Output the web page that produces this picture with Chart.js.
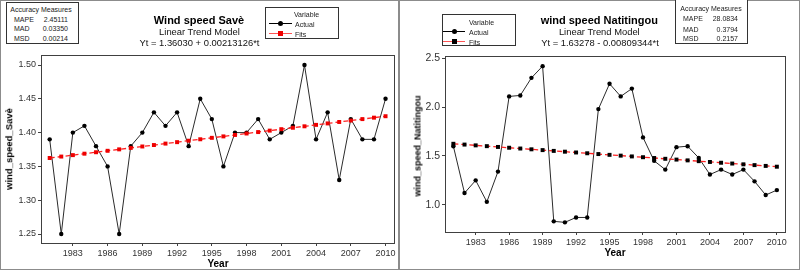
<!DOCTYPE html>
<html>
<head>
<meta charset="utf-8">
<script src="https://cdn.jsdelivr.net/npm/chart.js@4/dist/chart.umd.min.js"></script>
<style>
  html, body { margin: 0; padding: 0; background: #fff; }
  #page { position: relative; width: 800px; height: 270px; overflow: hidden; }
  .panel { position: absolute; top: 0; height: 268px; border: 1px solid #8c8c8c; }
  canvas { position: absolute; top: 0; }
  .t { position: absolute; white-space: nowrap; line-height: 1; color: #000;
       font-family: 'Liberation Sans', Arial, sans-serif; }
  .c { transform: translate(-50%, -50%); }
  .l { transform: translate(0, -50%); }
  .r { transform: translate(-100%, -50%); }
  .box { position: absolute; border: 1px solid #333; background: #fff; }
  .small { font-size: 7px; color: #222; }
  .title { font-size: 11px; font-weight: bold; }
  .sub { font-size: 9.4px; color: #111; }
  .axt { font-weight: bold; }
  .yt { transform: translate(-50%, -50%) rotate(-90deg); }
  .mk { position: absolute; }
</style>
</head>
<body>
<div id="page">
  <div class="panel" style="left:0; width:397px;"></div>
  <div class="panel" style="left:399px; width:399px;"></div>

  <canvas id="chartSave" width="398" height="270" style="left:0"></canvas>
  <canvas id="chartNati" width="400" height="270" style="left:400px"></canvas>

  <!-- Savè panel -->
  <div class="box" style="left:6px; top:2px; width:71px; height:40px;"></div>
  <div class="t small c" style="left:41px; top:8.5px;">Accuracy Measures</div>
  <div class="t small l" style="left:14px; top:18.5px;">MAPE</div>
  <div class="t small r" style="left:68px; top:18.5px;">2.45111</div>
  <div class="t small l" style="left:14px; top:28px;">MAD</div>
  <div class="t small r" style="left:68px; top:28px;">0.03350</div>
  <div class="t small l" style="left:14px; top:37.5px;">MSD</div>
  <div class="t small r" style="left:68px; top:37.5px;">0.00214</div>

  <div class="t title c" style="left:199px; top:19.5px;">Wind speed Savè</div>
  <div class="t sub c" style="left:199.5px; top:31.7px;">Linear Trend Model</div>
  <div class="t sub c" style="left:199.5px; top:43.3px;">Yt = 1.36030 + 0.00213126*t</div>

  <div class="box" style="left:265px; top:7px; width:72px; height:30px;"></div>
  <div class="t small c" style="left:306.5px; top:14px;">Variable</div>
  <div class="mk" style="left:269px; top:23px; width:23px; height:1px; background:#000;"></div>
  <div class="mk" style="left:278px; top:21px; width:5px; height:5px; border-radius:50%; background:#000;"></div>
  <div class="t small l" style="left:295px; top:23.5px;">Actual</div>
  <div class="mk" style="left:269px; top:33px; width:23px; height:1px; background:#f55;"></div>
  <div class="mk" style="left:278px; top:31px; width:5px; height:5px; background:#e00;"></div>
  <div class="t small l" style="left:295px; top:33.5px;">Fits</div>

  <div class="t axt yt" style="left:9px; top:149px; font-size:9.5px;">wind_speed_Savè</div>
  <div class="t axt c" style="left:218px; top:264px; font-size:10px;">Year</div>

  <!-- Natitingou panel -->
  <div class="box" style="left:442px; top:14px; width:72px; height:30px;"></div>
  <div class="t small c" style="left:481.5px; top:21.7px;">Variable</div>
  <div class="mk" style="left:443px; top:31px; width:22px; height:1px; background:#000;"></div>
  <div class="mk" style="left:452px; top:29px; width:5px; height:5px; border-radius:50%; background:#000;"></div>
  <div class="t small l" style="left:469px; top:31.5px;">Actual</div>
  <div class="mk" style="left:443px; top:41px; width:22px; height:1px; background:#f55;"></div>
  <div class="mk" style="left:452px; top:39px; width:5px; height:5px; background:#000;"></div>
  <div class="t small l" style="left:469px; top:41.5px;">Fits</div>

  <div class="t title c" style="left:599.3px; top:20px;">wind speed Natitingou</div>
  <div class="t sub c" style="left:599.3px; top:31.7px;">Linear Trend Model</div>
  <div class="t sub c" style="left:600px; top:43px;">Yt = 1.63278 - 0.00809344*t</div>

  <div class="box" style="left:675px; top:-1px; width:71px; height:43px;"></div>
  <div class="t small c" style="left:711px; top:8px;">Accuracy Measures</div>
  <div class="t small l" style="left:683px; top:17.7px;">MAPE</div>
  <div class="t small r" style="left:738px; top:17.7px;">28.0834</div>
  <div class="t small l" style="left:683px; top:28.7px;">MAD</div>
  <div class="t small r" style="left:738px; top:28.7px;">0.3794</div>
  <div class="t small l" style="left:683px; top:37.7px;">MSD</div>
  <div class="t small r" style="left:738px; top:37.7px;">0.2157</div>

  <div class="t axt yt" style="left:417.7px; top:146px; font-size:9px;">wind_speed_Natitingou</div>
  <div class="t axt c" style="left:615px; top:253px; font-size:10px;">Year</div>
</div>

<script>
(function () {
  'use strict';

  const years = [1981, 1982, 1983, 1984, 1985, 1986, 1987, 1988, 1989, 1990,
    1991, 1992, 1993, 1994, 1995, 1996, 1997, 1998, 1999, 2000,
    2001, 2002, 2003, 2004, 2005, 2006, 2007, 2008, 2009, 2010];
  const yearTicks = [1983, 1986, 1989, 1992, 1995, 1998, 2001, 2004, 2007, 2010];

  // Savè
  const saveActual = [1.39, 1.25, 1.40, 1.41, 1.38, 1.35, 1.25, 1.38, 1.40, 1.43,
    1.41, 1.43, 1.38, 1.45, 1.42, 1.35, 1.40, 1.40, 1.42, 1.39,
    1.40, 1.41, 1.50, 1.39, 1.43, 1.33, 1.42, 1.39, 1.39, 1.45];
  const saveFits = [1.36243, 1.36456, 1.36669, 1.36883, 1.37096, 1.37309, 1.37522, 1.37735, 1.37948, 1.38161,
    1.38374, 1.38588, 1.38801, 1.39014, 1.39227, 1.39440, 1.39653, 1.39866, 1.40079, 1.40293,
    1.40506, 1.40719, 1.40932, 1.41145, 1.41358, 1.41571, 1.41784, 1.41998, 1.42211, 1.42424];
  const saveTicks = [1.25, 1.30, 1.35, 1.40, 1.45, 1.50];

  // Natitingou
  const natiActual = [1.60, 1.12, 1.25, 1.03, 1.34, 2.11, 2.12, 2.30, 2.42, 0.83,
    0.82, 0.87, 0.87, 1.98, 2.24, 2.11, 2.19, 1.69, 1.45, 1.36,
    1.59, 1.60, 1.48, 1.31, 1.36, 1.31, 1.36, 1.24, 1.10, 1.15];
  const natiFits = [1.62469, 1.61659, 1.60850, 1.60041, 1.59231, 1.58422, 1.57613, 1.56803, 1.55994, 1.55185,
    1.54375, 1.53566, 1.52757, 1.51947, 1.51138, 1.50328, 1.49519, 1.48710, 1.47900, 1.47091,
    1.46282, 1.45472, 1.44663, 1.43854, 1.43044, 1.42235, 1.41426, 1.40616, 1.39807, 1.38998];
  const natiTicks = [1.0, 1.5, 2.0, 2.5];

  const FONT = "'Liberation Sans', Arial, sans-serif";

  // Cadre complet autour de la zone de tracé (style Minitab).
  const framePlugin = {
    id: 'frame',
    afterDatasetsDraw: function (chart) {
      const a = chart.chartArea;
      const ctx = chart.ctx;
      ctx.save();
      ctx.strokeStyle = '#404040';
      ctx.lineWidth = 1;
      ctx.strokeRect(Math.round(a.left) + 0.5, Math.round(a.top) + 0.5,
        Math.round(a.right - a.left), Math.round(a.bottom - a.top));
      ctx.restore();
    },
  };

  function pairs(xs, ys) {
    return xs.map(function (x, i) { return { x: x, y: ys[i] }; });
  }

  function makeChart(id, actual, fits, cfg) {
    new Chart(document.getElementById(id), {
      type: 'line',
      data: {
        datasets: [
          {
            label: 'Actual',
            data: pairs(years, actual),
            borderColor: '#2b2b2b',
            borderWidth: 1,
            pointStyle: 'circle',
            pointRadius: 2.2,
            pointBackgroundColor: '#000',
            pointBorderWidth: 0,
            tension: 0,
            order: 1,
          },
          {
            label: 'Fits',
            data: pairs(years, fits),
            borderColor: '#f22',
            borderWidth: 1.3,
            borderDash: [5, 3],
            pointStyle: 'rect',
            pointRadius: 2.8,
            pointBackgroundColor: cfg.fitsPoint,
            pointBorderWidth: 0,
            tension: 0,
            order: 0,
          },
        ],
      },
      options: {
        responsive: false,
        animation: false,
        events: [],
        layout: { padding: cfg.padding },
        plugins: {
          legend: { display: false },
          title: { display: false },
          tooltip: { enabled: false },
        },
        scales: {
          x: {
            type: 'linear',
            min: 1980.25,
            max: 2010.73,
            afterBuildTicks: function (scale) {
              scale.ticks = yearTicks.map(function (v) { return { value: v }; });
            },
            afterFit: function (scale) { scale.height = cfg.xHeight; },
            grid: { display: true, drawOnChartArea: false, drawTicks: true, tickLength: 3, color: '#404040' },
            border: { display: false },
            ticks: {
              autoSkip: false,
              maxRotation: 0,
              padding: 2,
              color: '#333',
              font: { family: FONT, size: 9 },
              callback: function (v) { return String(v); },
            },
          },
          y: {
            min: cfg.yMin,
            max: cfg.yMax,
            afterBuildTicks: function (scale) {
              scale.ticks = cfg.yTicks.map(function (v) { return { value: v }; });
            },
            afterFit: function (scale) { scale.width = cfg.yWidth; },
            grid: { display: true, drawOnChartArea: false, drawTicks: true, tickLength: 3, color: '#404040' },
            border: { display: false },
            ticks: {
              padding: 2,
              color: '#333',
              font: { family: FONT, size: cfg.yFont },
              callback: function (v) { return Number(v).toFixed(cfg.decimals); },
            },
          },
        },
      },
      plugins: [framePlugin],
    });
  }

  makeChart('chartSave', saveActual, saveFits, {
    yMin: 1.2367, yMax: 1.5148, yTicks: saveTicks, decimals: 2, yFont: 9,
    yWidth: 41, xHeight: 27, padding: { top: 55, right: 3, left: 0, bottom: 0 },
    fitsPoint: '#e00',
  });

  makeChart('chartNati', natiActual, natiFits, {
    yMin: 0.721, yMax: 2.524, yTicks: natiTicks, decimals: 1, yFont: 10.5,
    yWidth: 45, xHeight: 38, padding: { top: 56, right: 15, left: 0, bottom: 0 },
    fitsPoint: '#000',
  });
})();
</script>
</body>
</html>
